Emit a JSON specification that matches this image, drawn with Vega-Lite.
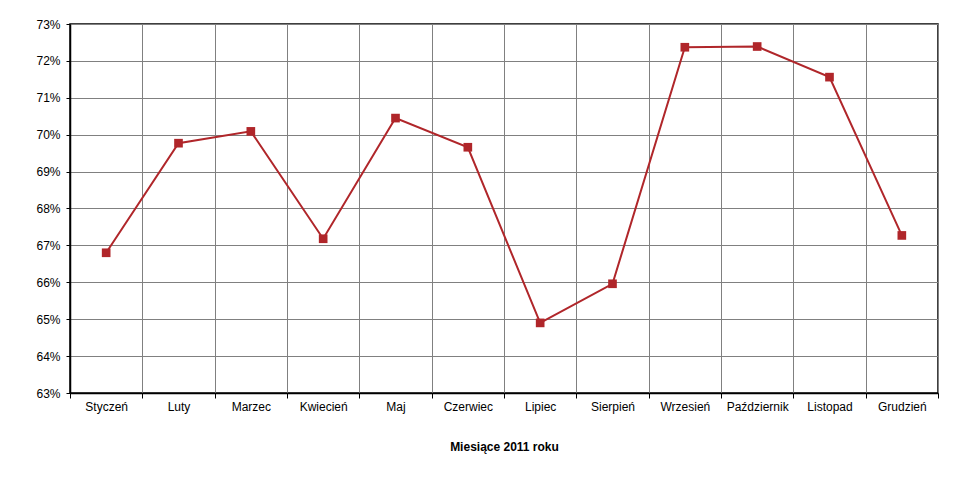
{
  "$schema": "https://vega.github.io/schema/vega-lite/v6.json",
  "width": 868,
  "height": 369,
  "autosize": {"type": "none"},
  "padding": {"left": 70, "top": 24, "right": 23, "bottom": 85},
  "background": "white",
  "data": {
    "values": [
      {"miesiac": "Styczeń", "wartosc": 0.6680},
      {"miesiac": "Luty", "wartosc": 0.6977},
      {"miesiac": "Marzec", "wartosc": 0.7009},
      {"miesiac": "Kwiecień", "wartosc": 0.6718},
      {"miesiac": "Maj", "wartosc": 0.7045},
      {"miesiac": "Czerwiec", "wartosc": 0.6966},
      {"miesiac": "Lipiec", "wartosc": 0.6490},
      {"miesiac": "Sierpień", "wartosc": 0.6596},
      {"miesiac": "Wrzesień", "wartosc": 0.7237},
      {"miesiac": "Październik", "wartosc": 0.7239},
      {"miesiac": "Listopad", "wartosc": 0.7156},
      {"miesiac": "Grudzień", "wartosc": 0.6727}
    ]
  },
  "mark": {
    "type": "line",
    "color": "#B0262A",
    "strokeWidth": 2,
    "point": {"shape": "square", "size": 75, "filled": true, "color": "#B0262A", "opacity": 1}
  },
  "encoding": {
    "x": {
      "field": "miesiac",
      "type": "nominal",
      "sort": null,
      "scale": {"paddingInner": 0, "paddingOuter": 0},
      "axis": {
        "title": "Miesiące 2011  roku",
        "titleFont": "Liberation Sans",
        "titleFontSize": 12,
        "titleFontWeight": "bold",
        "titleColor": "black",
        "titlePadding": 29,
        "labelFont": "Liberation Sans",
        "labelFontSize": 12,
        "labelColor": "black",
        "labelAngle": 0,
        "labelPadding": 3,
        "tickBand": "extent",
        "grid": true,
        "gridColor": "#808080",
        "gridOpacity": 1,
        "gridWidth": 1,
        "domainColor": "black",
        "domainWidth": 1.5,
        "tickColor": "black",
        "tickSize": 5,
        "tickWidth": 1
      }
    },
    "y": {
      "field": "wartosc",
      "type": "quantitative",
      "scale": {"domain": [0.63, 0.73], "nice": false, "zero": false},
      "axis": {
        "title": null,
        "format": ".0%",
        "values": [0.63, 0.64, 0.65, 0.66, 0.67, 0.68, 0.69, 0.70, 0.71, 0.72, 0.73],
        "labelFont": "Liberation Sans",
        "labelFontSize": 12,
        "labelColor": "black",
        "labelPadding": 6,
        "grid": true,
        "gridColor": "#808080",
        "gridOpacity": 1,
        "gridWidth": 1,
        "domainColor": "black",
        "domainWidth": 1.5,
        "tickColor": "black",
        "tickSize": 4,
        "tickWidth": 1
      }
    }
  },
  "config": {
    "view": {"stroke": "black", "strokeWidth": 1.5}
  }
}
